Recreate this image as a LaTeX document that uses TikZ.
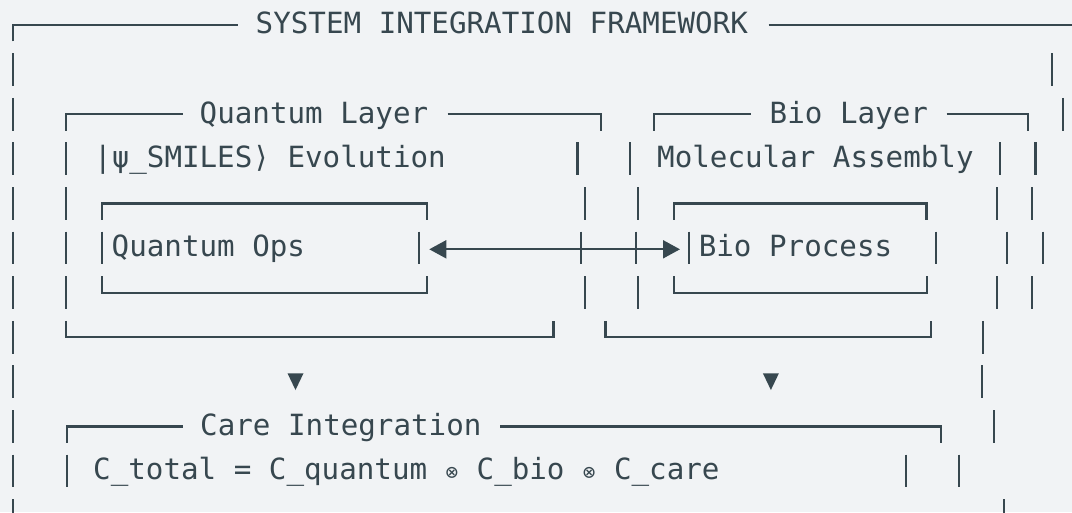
\documentclass[tikz,border=0pt]{standalone}
\usepackage{fontspec}
\usepackage{xcolor}
\usepackage{tikz}
\usetikzlibrary{arrows.meta,positioning,calc}

\newfontfamily\asciifont{DejaVu Sans Mono}
\definecolor{ink}{HTML}{37474F}
\definecolor{paper}{HTML}{F1F3F5}
\newcommand{\otm}{\makebox[14.3pt]{\fontsize{21}{25}\selectfont ⊗}}

\tikzset{
  bar/.style={draw=ink, line width=2.2pt},
  label/.style={font=\asciifont\fontsize{29.2}{35}\selectfont, text=ink, inner sep=0pt, anchor=base west},
  link/.style={draw=ink, line width=2pt, {Triangle[length=17pt,width=18pt]}-{Triangle[length=17pt,width=18pt]}}
}

\begin{document}
\begin{tikzpicture}[x=1pt, y=-1pt]
  \fill[paper] (0,0) rectangle (1072,512);
  \useasboundingbox (0,0) rectangle (1072,512);

  % outer frame, top row
  \draw[bar] (13.3,41.4) |- (238.3,25);
  \node[label] (title) at (255.5,33.8) {SYSTEM INTEGRATION FRAMEWORK};
  \draw[bar] (768.5,25) -- (1072,25);

  % layer headers
  \draw[bar] (66.1,130.6) |- (182.5,114.2);
  \node[label] (qlayer) at (199.5,123) {Quantum Layer};
  \draw[bar] (447.7,114.2) -| (600.9,130.6);
  \draw[bar] (653.7,130.6) |- (751.2,114.2);
  \node[label] (blayer) at (769.5,123) {Bio Layer};
  \draw[bar] (946.7,114.2) -| (1027.7,130.6);

  \node[label] (psi) at (94,167.6) {|ψ\_SMILES⟩ Evolution};
  \node[label] (molasm) at (657,167.6) {Molecular Assembly};

  % inner boxes
  \draw[bar] (102.3,219.8) |- (427,203.4) -- (427,219.8);
  \draw[bar] (102.3,276.2) |- (427,292.6) -- (427,276.2);
  \draw[bar] (673.8,219.8) |- (926.5,203.4) -- (926.5,219.8);
  \draw[bar] (673.8,276.2) |- (926.8,292.6) -- (926.8,276.2);
  \node[label] (qops) at (111.5,256.8) {Quantum Ops};
  \node[label] (bproc) at (698.6,256.8) {Bio Process};

  % layer bottoms
  \draw[bar] (66.1,320.8) |- (553.5,337.2) -- (553.5,320.8);
  \draw[bar] (605.4,320.8) |- (931,337.2) -- (931,320.8);

  % exchange arrow
  \coordinate (qport) at (429.3,249.3);
  \coordinate (bport) at (680,249.3);
  \draw[link] (qport) -- (bport);

  % down marks
  \foreach \x in {295.5,770.9} {
    \fill[ink] (\x-8,373.3) -- (\x+8,373.3) -- (\x,390) -- cycle;
  }

  % care block
  \draw[bar] (66.7,442.8) |- (183.3,426.4);
  \node[label] (care) at (200,435.2) {Care Integration};
  \draw[bar] (500,426.4) -| (941.3,442.8);
  \node[label] (ctotal) at (93,479.8) {C\_total = C\_quantum \otm{} C\_bio \otm{} C\_care};

  % vertical strokes, one per text row
  \foreach \x/\r in {13.3/1,1051.7/1, 13.3/2,1063.3/2,
      13.3/3,66.1/3,577.4/3,630.2/3,1000.1/3,1035.4/3,
      13.3/4,66.1/4,584.6/4,638.2/4,996.6/4,1031.9/4,
      13.3/5,66.1/5,102.3/5,419.3/5,581/5,635.7/5,689.3/5,936.2/5,1007/5,1042.6/5,
      13.3/6,66.1/6,585/6,638.3/6,996.6/6,1031.9/6,
      13.3/7,982.8/7, 13.3/8,982.3/8, 13.3/9,994.3/9,
      13.3/10,66.7/10,906/10,959.3/10, 13.3/11,1003.7/11} {
    \draw[bar] (\x,{25+44.6*\r-16.4}) -- (\x,{25+44.6*\r+16.4});
  }
\end{tikzpicture}
\end{document}
